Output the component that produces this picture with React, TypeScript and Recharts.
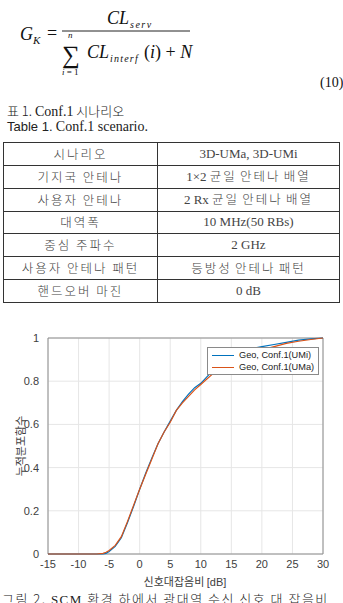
import { LineChart, Line, XAxis, YAxis, CartesianGrid, ReferenceArea } from 'recharts'

// SNR [dB] sample points
const snr = [-15, -10, -7, -6, -5.5, -5, -4, -3, -2, -1, 0, 1, 2, 3, 4, 5, 6, 7, 8, 9, 10, 11, 12, 13, 14, 15, 16, 17, 18, 20, 22, 24, 26, 28, 30]
// CDF, Geo Conf.1 (UMi)
const umi = [0, 0, 0, 0, 0.003, 0.012, 0.035, 0.075, 0.145, 0.22, 0.3, 0.375, 0.445, 0.51, 0.565, 0.615, 0.665, 0.705, 0.74, 0.77, 0.79, 0.82, 0.85, 0.875, 0.895, 0.91, 0.925, 0.94, 0.95, 0.96, 0.97, 0.98, 0.99, 0.996, 1]
// CDF, Geo Conf.1 (UMa)
const uma = [0, 0, 0, 0.003, 0.008, 0.016, 0.04, 0.08, 0.15, 0.225, 0.3, 0.37, 0.44, 0.51, 0.565, 0.61, 0.665, 0.7, 0.73, 0.76, 0.785, 0.81, 0.835, 0.855, 0.875, 0.89, 0.905, 0.92, 0.93, 0.945, 0.96, 0.975, 0.985, 0.993, 1]

const xTicks = [-15, -10, -5, 0, 5, 10, 15, 20, 25, 30]
const yTicks = [0, 0.2, 0.4, 0.6, 0.8, 1]

const seriesNames = ['Geo, Conf.1(UMi)', 'Geo, Conf.1(UMa)']
const seriesColors = ['#0072BD', '#D95319']

// Table 1 rows
const rowLabels = ['시나리오', '기지국 안테나', '사용자 안테나', '대역폭', '중심 주파수', '사용자 안테나 패턴', '핸드오버 마진']
const rowValues = ['3D-UMa, 3D-UMi', '1×2 균일 안테나 배열', '2 Rx 균일 안테나 배열', '10 MHz(50 RBs)', '2 GHz', '등방성 안테나 패턴', '0 dB']

const chartData = snr.map((x, i) => ({ x, umi: umi[i], uma: uma[i] }))

const serif = '"Liberation Serif", serif'
const kr = '"Noto Sans CJK KR", sans-serif'
const sans = '"Liberation Sans", Arial, sans-serif'

// split a string into Latin (serif) and Hangul (CJK font) runs
function Mixed({ text }: { text: string }) {
  const parts = text.split(/([가-힣]+)/).filter(p => p.length)
  return (
    <>
      {parts.map((p, i) =>
        /[가-힣]/.test(p)
          ? <span key={i} style={{ fontFamily: kr, fontWeight: 300, fontSize: 12.5, letterSpacing: 2 }}>{p}</span>
          : <span key={i} style={{ fontFamily: serif }}>{p}</span>
      )}
    </>
  )
}

function Formula() {
  return (
    <svg width={343} height={100} style={{ position: 'absolute', left: 0, top: 0 }}>
      <g fontFamily={serif} fill="#111">
        <text x={20} y={40} fontSize={18} fontStyle="italic">G</text>
        <text x={33} y={44} fontSize={11} fontStyle="italic">K</text>
        <text x={47} y={39} fontSize={18}>=</text>
        <line x1={62} x2={190} y1={31} y2={31} stroke="#222" strokeWidth={1} />
        <text x={107} y={24} fontSize={18} fontStyle="italic">CL</text>
        <text x={130} y={28} fontSize={10} fontStyle="italic" letterSpacing={1.5}>serv</text>
        <text x={62} y={63} fontSize={25}>∑</text>
        <text x={68} y={38} fontSize={9} fontStyle="italic">n</text>
        <text x={62} y={75} fontSize={9}><tspan fontStyle="italic">i</tspan> = 1</text>
        <text x={87} y={58} fontSize={18} fontStyle="italic">CL</text>
        <text x={110} y={62} fontSize={10} fontStyle="italic" letterSpacing={1.2}>interf</text>
        <text x={144} y={58} fontSize={18}>(<tspan fontStyle="italic">i</tspan>) + <tspan fontStyle="italic">N</tspan></text>
        <text x={320} y={87} fontSize={14}>(10)</text>
      </g>
    </svg>
  )
}

function Table() {
  const rowH = 22.85
  return (
    <div style={{ position: 'absolute', left: 3, top: 142, width: 337 }}>
      <table style={{ borderCollapse: 'collapse', width: 337, tableLayout: 'fixed', border: '1.5px solid #222' }}>
        <tbody>
          {rowLabels.map((l, i) => (
            <tr key={l} style={{ height: rowH }}>
              <td style={{ width: 153, border: '1px solid #333', padding: 0, textAlign: 'center', fontFamily: kr, fontSize: 12.5, letterSpacing: 2, color: '#444', fontWeight: 300, lineHeight: '16px' }}>{l}</td>
              <td style={{ border: '1px solid #333', padding: 0, textAlign: 'center', fontSize: 13, color: '#444', fontWeight: 400, lineHeight: '16px' }}>
                <Mixed text={rowValues[i]} />
              </td>
            </tr>
          ))}
        </tbody>
      </table>
    </div>
  )
}

function LegendBox() {
  return (
    <div style={{ position: 'absolute', left: 207, top: 347, background: '#fff', border: '1px solid #8a8a8a', padding: '1px 4px 1px 4px', fontFamily: sans, fontSize: 9.2, color: '#222', lineHeight: '12px' }}>
      {seriesNames.map((n, i) => (
        <div key={n} style={{ display: 'flex', alignItems: 'center' }}>
          <span style={{ display: 'inline-block', width: 22, height: 1, background: seriesColors[i], marginRight: 5 }} />
          <span>{n}</span>
        </div>
      ))}
    </div>
  )
}

export default function App() {
  return (
    <div style={{ position: 'absolute', left: 0, top: 0, width: 343, height: 603, overflow: 'hidden', background: '#fff' }}>
      <Formula />
      <div style={{ position: 'absolute', left: 7, top: 103, fontFamily: kr, fontSize: 13, color: '#222', whiteSpace: 'nowrap', lineHeight: '15px', fontWeight: 300 }}>
        표 1. <span style={{ fontFamily: serif, fontSize: 14 }}>Conf.1</span> 시나리오
      </div>
      <div style={{ position: 'absolute', left: 7, top: 119, fontSize: 13, color: '#222', whiteSpace: 'nowrap', lineHeight: '15px' }}>
        <span style={{ fontFamily: sans }}>Table 1.</span> <span style={{ fontFamily: serif, fontSize: 14 }}>Conf.1 scenario.</span>
      </div>
      <Table />

      <div style={{ position: 'absolute', left: 0, top: 320 }}>
        <LineChart width={343} height={283} data={chartData} margin={{ top: 18, right: 20, bottom: 19, left: 0 }}>
          <CartesianGrid stroke="#e6e6e6" strokeWidth={1} />
          <XAxis
            dataKey="x"
            type="number"
            domain={[-15, 30]}
            ticks={xTicks}
            height={30}
            axisLine={false}
            tickLine={false}
            tick={{ fill: '#404040', fontSize: 11, fontFamily: sans }}
            tickMargin={0}
          />
          <YAxis
            type="number"
            domain={[0, 1]}
            ticks={yTicks}
            width={48}
            axisLine={false}
            tickLine={false}
            tick={{ fill: '#404040', fontSize: 11, fontFamily: sans }}
            tickMargin={3}
          />
          <ReferenceArea x1={-15} x2={30} y1={0} y2={1} fill="none" stroke="#8c8c8c" strokeWidth={1} ifOverflow="visible" />
          <Line dataKey="umi" name={seriesNames[0]} stroke={seriesColors[0]} strokeWidth={1.2} dot={false} isAnimationActive={false} />
          <Line dataKey="uma" name={seriesNames[1]} stroke={seriesColors[1]} strokeWidth={1.2} dot={false} isAnimationActive={false} />
        </LineChart>
      </div>
      <LegendBox />

      <div style={{ position: 'absolute', left: 20, top: 446, transform: 'translate(-50%, -50%) rotate(-90deg)', fontFamily: kr, fontSize: 11, color: '#404040', whiteSpace: 'nowrap', lineHeight: '13px' }}>
        누적분포함수
      </div>
      <div style={{ position: 'absolute', left: 185, top: 581, transform: 'translate(-50%, -50%)', fontFamily: kr, fontSize: 11, color: '#404040', whiteSpace: 'nowrap', lineHeight: '12px' }}>
        신호대잡음비 <span style={{ fontFamily: sans }}>[dB]</span>
      </div>
      <div style={{ position: 'absolute', left: 2, top: 591, fontFamily: kr, fontSize: 13, color: '#222', whiteSpace: 'nowrap', letterSpacing: 1.5, lineHeight: '16px', fontWeight: 300 }}>
        그림 2. <span style={{ fontFamily: serif }}>SCM</span> 환경 하에서 광대역 수신 신호 대 잡음비
      </div>
    </div>
  )
}
